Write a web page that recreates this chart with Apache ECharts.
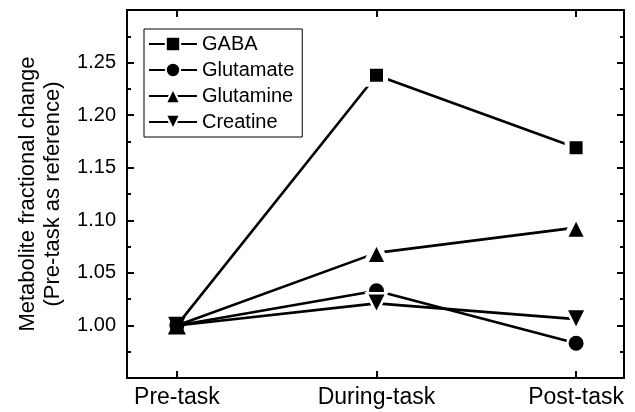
<!DOCTYPE html>
<html>
<head>
<meta charset="utf-8">
<script src="https://cdn.jsdelivr.net/npm/echarts@6/dist/echarts.min.js"></script>
<style>
  html, body { margin: 0; padding: 0; background: #fff; }
  #chart { width: 635px; height: 412px; }
</style>
</head>
<body>
<div id="chart"></div>
<script>
// Measurement phases on the x axis
const categories = ['Pre-task', 'During-task', 'Post-task'];

// Fractional change of each metabolite, relative to pre-task
const gaba      = [1.000, 1.238, 1.169];
const glutamate = [1.000, 1.033, 0.983];
const glutamine = [1.000, 1.069, 1.093];
const creatine  = [1.000, 1.021, 1.006];

// Y tick labels that are printed
const yTickLabels = ['1.00', '1.05', '1.10', '1.15', '1.20', '1.25'];

const FONT = 'Liberation Sans, Arial, sans-serif';
const BLACK = '#000';

// Each point gets a white halo so the connecting line stops short of the marker,
// except the shared starting point where all markers overlap.
function toPoints(values, size, halo) {
  return values.map((v, i) => i === 0
    ? { value: [i, v], symbolSize: size - halo, itemStyle: { borderWidth: 0 } }
    : { value: [i, v] });
}

function makeSeries(name, values, symbol, size, opts) {
  const o = opts || {};
  const halo = o.halo !== undefined ? o.halo : 5;
  return {
    name: name,
    type: 'line',
    z: o.z || 2,
    data: toPoints(values, size, halo),
    symbol: symbol,
    symbolSize: size,
    symbolRotate: o.rotate || 0,
    showAllSymbol: true,
    lineStyle: { color: BLACK, width: 2.6 },
    itemStyle: { color: BLACK, borderColor: '#fff', borderWidth: halo },
    emphasis: { disabled: true },
    animation: false
  };
}

const chart = echarts.init(document.getElementById('chart'), null, { renderer: 'canvas' });

const axisLine = { show: true, onZero: false, lineStyle: { color: BLACK, width: 2 } };

chart.setOption({
  backgroundColor: '#fff',
  animation: false,
  grid: { left: 127, right: 11, top: 10, bottom: 34, containLabel: false },
  legend: {
    orient: 'vertical',
    left: 144,
    top: 29,
    borderColor: BLACK,
    borderWidth: 1,
    borderRadius: 0,
    padding: [5, 8, 5, 4],
    itemWidth: 48,
    itemHeight: 18,
    itemGap: 6,
    itemStyle: { borderWidth: 2, borderColor: '#fff' },
    textStyle: { fontFamily: FONT, fontSize: 20, color: BLACK },
    data: ['GABA', 'Glutamate', 'Glutamine', 'Creatine']
  },
  xAxis: [
    {
      type: 'value',
      position: 'bottom',
      min: -0.25,
      max: 2.24,
      axisLine: axisLine,
      splitLine: { show: false },
      axisTick: { show: true, inside: true, length: 7, customValues: [0, 1, 2],
                  lineStyle: { color: BLACK, width: 2 } },
      axisLabel: {
        customValues: [0, 1, 2],
        margin: 8,
        fontFamily: FONT, fontSize: 23, color: BLACK,
        formatter: v => categories[Math.round(v)] || ''
      }
    },
    {
      type: 'value',
      position: 'top',
      min: -0.25,
      max: 2.24,
      axisLine: axisLine,
      splitLine: { show: false },
      axisTick: { show: true, inside: true, length: 7, customValues: [0, 1, 2],
                  lineStyle: { color: BLACK, width: 2 } },
      axisLabel: { show: false }
    }
  ],
  yAxis: [
    {
      type: 'value',
      position: 'left',
      min: 0.95,
      max: 1.30,
      interval: 0.05,
      axisLine: axisLine,
      splitLine: { show: false },
      axisTick: { show: true, inside: true, length: 7, lineStyle: { color: BLACK, width: 2 } },
      minorTick: { show: true, splitNumber: 2, length: 4, lineStyle: { color: BLACK, width: 2 } },
      axisLabel: {
        margin: 11,
        fontFamily: FONT, fontSize: 20, color: BLACK,
        formatter: v => {
          const s = v.toFixed(2);
          return yTickLabels.indexOf(s) >= 0 ? s : '';
        }
      },
      name: 'Metabolite fractional change\n(Pre-task as reference)',
      nameLocation: 'middle',
      nameRotate: 90,
      nameGap: 62,
      nameTextStyle: { fontFamily: FONT, fontSize: 22, color: BLACK, lineHeight: 25, align: 'center' }
    },
    {
      type: 'value',
      position: 'right',
      min: 0.95,
      max: 1.30,
      interval: 0.05,
      axisLine: axisLine,
      splitLine: { show: false },
      axisTick: { show: true, inside: true, length: 7, lineStyle: { color: BLACK, width: 2 } },
      minorTick: { show: true, splitNumber: 2, length: 4, lineStyle: { color: BLACK, width: 2 } },
      axisLabel: { show: false }
    }
  ],
  series: [
    makeSeries('GABA', gaba, 'rect', 18),
    makeSeries('Glutamate', glutamate, 'circle', 17.5, { z: 3, halo: 2.5 }),
    makeSeries('Glutamine', glutamine, 'triangle', 23),
    makeSeries('Creatine', creatine, 'triangle', 20, { rotate: 180, z: 3, halo: 2.5 })
  ]
});
</script>
</body>
</html>
